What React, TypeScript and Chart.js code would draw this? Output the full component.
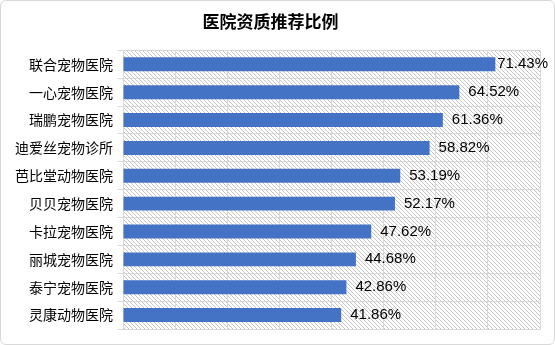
import React, { useEffect, useRef } from "react";
import { Chart, registerables } from "chart.js";

Chart.register(...registerables);

const TITLE = "医院资质推荐比例";
const categories = [
  "联合宠物医院",
  "一心宠物医院",
  "瑞鹏宠物医院",
  "迪爱丝宠物诊所",
  "芭比堂动物医院",
  "贝贝宠物医院",
  "卡拉宠物医院",
  "丽城宠物医院",
  "泰宁宠物医院",
  "灵康动物医院",
];
const values = [71.43, 64.52, 61.36, 58.82, 53.19, 52.17, 47.62, 44.68, 42.86, 41.86];
const xMax = 80;
const xStep = 10;

const GRID = "#d9d9d9";

function makePattern(): CanvasPattern | string {
  const c = document.createElement("canvas");
  c.width = 4;
  c.height = 4;
  const g = c.getContext("2d");
  if (!g) return "#fff";
  g.fillStyle = "#ffffff";
  g.fillRect(0, 0, 4, 4);
  g.fillStyle = "#c6c6c6";
  for (let i = 0; i < 4; i++) g.fillRect(i, i, 1, 1);
  const p = g.createPattern(c, "repeat");
  return p || "#fff";
}

const bgPlugin = {
  id: "hatchBg",
  beforeDraw(chart: any) {
    const { ctx, chartArea } = chart;
    if (!chartArea) return;
    ctx.save();
    ctx.fillStyle = makePattern();
    ctx.fillRect(chartArea.left, chartArea.top, chartArea.right - chartArea.left, chartArea.bottom - chartArea.top);
    ctx.restore();
  },
};

const labelPlugin = {
  id: "barLabels",
  afterDatasetsDraw(chart: any) {
    const { ctx } = chart;
    const meta = chart.getDatasetMeta(0);
    ctx.save();
    ctx.font = '15px "Liberation Sans", Arial, sans-serif';
    ctx.fillStyle = "#000";
    ctx.textBaseline = "middle";
    ctx.textAlign = "left";
    meta.data.forEach((bar: any, i: number) => {
      const txt = values[i].toFixed(2) + "%";
      const w = ctx.measureText(txt).width;
      let x = bar.x + 9;
      const maxRight = chart.width - 6;
      if (x + w > maxRight) x = maxRight - w;
      ctx.fillText(txt, x, bar.y);
    });
    ctx.restore();
  },
};

export default function App() {
  const ref = useRef<HTMLCanvasElement | null>(null);
  useEffect(() => {
    document.body.style.margin = "0";
    if (!ref.current) return;
    const chart = new Chart(ref.current, {
      type: "bar",
      data: {
        labels: categories,
        datasets: [
          {
            data: values,
            backgroundColor: "#4472C4",
            borderWidth: 0,
            barPercentage: 0.5,
            categoryPercentage: 1,
          },
        ],
      },
      options: {
        indexAxis: "y",
        animation: false,
        responsive: false,
        maintainAspectRatio: false,
        layout: { padding: { left: 0, right: 14, top: 0, bottom: 15 } },
        plugins: {
          legend: { display: false },
          tooltip: { enabled: false },
          title: {
            display: true,
            text: TITLE,
            color: "#000",
            font: { family: '"Noto Sans CJK SC", sans-serif', size: 17, weight: "bold" },
            padding: { top: 10, bottom: 19 },
          },
        },
        scales: {
          x: {
            min: 0,
            max: xMax,
            ticks: { display: false, stepSize: xStep },
            grid: { color: GRID, drawTicks: false, lineWidth: 1 },
            border: { display: true, color: GRID },
          },
          y: {
            afterFit: (s: any) => {
              s.width = 122;
            },
            ticks: {
              color: "#000",
              padding: 5,
              font: { family: '"Noto Sans CJK SC", sans-serif', size: 14 },
            },
            grid: { color: GRID, offset: true, tickLength: 5, drawTicks: true },
            border: { display: true, color: GRID },
          },
        },
      },
      plugins: [bgPlugin, labelPlugin],
    });
    return () => chart.destroy();
  }, []);
  return (
    <div
      style={{
        position: "absolute",
        left: 0,
        top: 0,
        width: 555,
        height: 345,
        boxSizing: "border-box",
        border: "1px solid #d9d9d9",
        borderRadius: 6,
        background: "#fff",
        overflow: "hidden",
      }}
    >
      <canvas ref={ref} width={553} height={343} style={{ display: "block" }} />
    </div>
  );
}
